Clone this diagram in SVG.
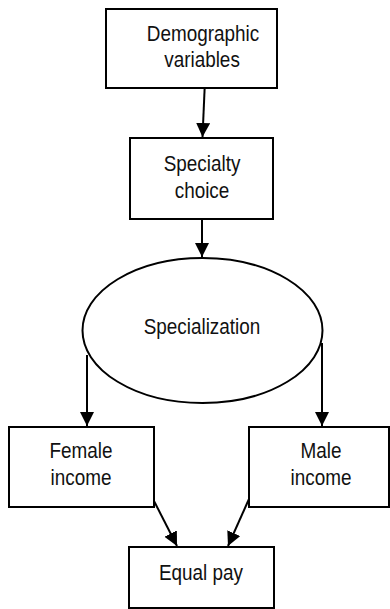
<svg xmlns="http://www.w3.org/2000/svg" width="390" height="609" viewBox="0 0 390 609">
  <style>
    .box { fill: #fff; stroke: #000; stroke-width: 2; }
    .lbl { font-family: "Liberation Sans", Arial, sans-serif; font-size: 22px; fill: #111; text-anchor: middle; }
    .edge { fill: none; stroke: #000; stroke-width: 2; }
  </style>
  <defs>
    <marker id="arrow" markerWidth="15" markerHeight="15" refX="14" refY="7" orient="auto" markerUnits="userSpaceOnUse">
      <path d="M0,0 L14,7 L0,14 Z" fill="#000"/>
    </marker>
  </defs>
  <rect width="390" height="609" fill="#fff"/>

  <g id="connectors">
    <line class="edge" x1="205" y1="80" x2="202.5" y2="137" marker-end="url(#arrow)"/>
    <line class="edge" x1="202" y1="219" x2="202" y2="257" marker-end="url(#arrow)"/>
    <line class="edge" x1="87" y1="355" x2="87" y2="426" marker-end="url(#arrow)"/>
    <line class="edge" x1="322" y1="343" x2="322" y2="426" marker-end="url(#arrow)"/>
    <line class="edge" x1="154" y1="501" x2="177" y2="546" marker-end="url(#arrow)"/>
    <line class="edge" x1="249" y1="499" x2="228" y2="546" marker-end="url(#arrow)"/>
  </g>

  <!-- labels use a narrowed sans: scaled 0.86 horizontally about their anchor -->
  <g id="demographic">
    <rect class="box" x="106" y="9" width="171" height="79"/>
    <text class="lbl" transform="translate(203,41) scale(0.86,1)">Demographic</text>
    <text class="lbl" transform="translate(202,67) scale(0.86,1)">variables</text>
  </g>

  <g id="specialty">
    <rect class="box" x="130" y="138" width="143" height="81"/>
    <text class="lbl" transform="translate(202,171) scale(0.86,1)">Specialty</text>
    <text class="lbl" transform="translate(202,198) scale(0.86,1)">choice</text>
  </g>

  <g id="specialization">
    <ellipse class="box" cx="202.5" cy="330.5" rx="120" ry="72.5"/>
    <text class="lbl" transform="translate(202,334) scale(0.86,1)">Specialization</text>
  </g>

  <g id="female">
    <rect class="box" x="9" y="427" width="145" height="80"/>
    <text class="lbl" transform="translate(81,458) scale(0.86,1)">Female</text>
    <text class="lbl" transform="translate(81,485) scale(0.86,1)">income</text>
  </g>

  <g id="male">
    <rect class="box" x="249" y="427" width="140" height="80"/>
    <text class="lbl" transform="translate(321,458) scale(0.86,1)">Male</text>
    <text class="lbl" transform="translate(321,485) scale(0.86,1)">income</text>
  </g>

  <g id="equal-pay">
    <rect class="box" x="129" y="547" width="145" height="61"/>
    <text class="lbl" transform="translate(201,580) scale(0.86,1)">Equal pay</text>
  </g>
</svg>
